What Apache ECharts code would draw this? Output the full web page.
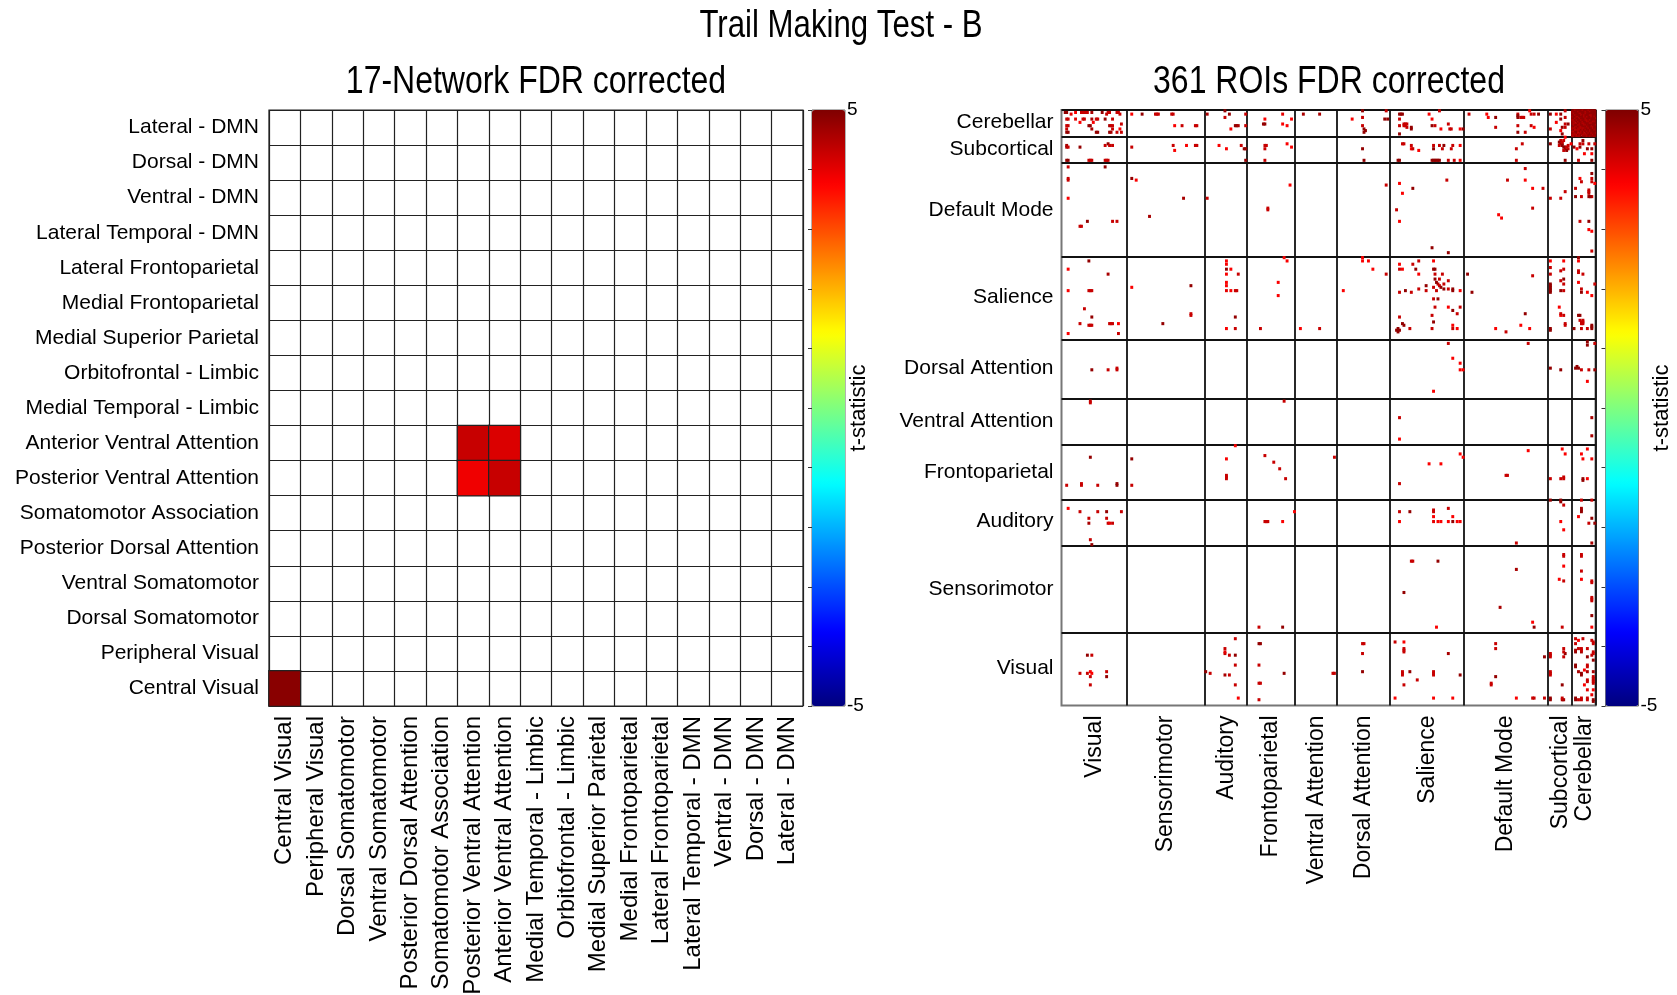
<!DOCTYPE html>
<html>
<head>
<meta charset="utf-8">
<script src="https://cdn.jsdelivr.net/npm/echarts/dist/echarts.min.js"></script>
<style>
html,body{margin:0;padding:0;background:#ffffff;}
#chart{width:1677px;height:995px;}
</style>
</head>
<body>
<div id="chart"></div>
<script>
// ---------- DATA ----------
const mainTitle = 'Trail Making Test - B';
const leftTitle = '17-Network FDR corrected';
const rightTitle = '361 ROIs FDR corrected';
const colorbarName = 't-statistic';

// 17-network order (x: left->right, y: bottom->top)
const networks17 = [
  'Central Visual','Peripheral Visual','Dorsal Somatomotor','Ventral Somatomotor',
  'Posterior Dorsal Attention','Somatomotor Association','Posterior Ventral Attention',
  'Anterior Ventral Attention','Medial Temporal - Limbic','Orbitofrontal - Limbic',
  'Medial Superior Parietal','Medial Frontoparietal','Lateral Frontoparietal',
  'Lateral Temporal - DMN','Ventral - DMN','Dorsal - DMN','Lateral - DMN'
];
// [xIndex, yIndex, t]
const cells17 = [[0,0,4.9],[6,7,4.3],[7,7,4.1],[6,6,3.9],[7,6,4.3]];

// 361-ROI network blocks (x: left->right, y: bottom->top)
const roiNetworks = ['Visual','Sensorimotor','Auditory','Frontoparietal','Ventral Attention',
  'Dorsal Attention','Salience','Default Mode','Subcortical','Cerebellar'];
const roiSizes = [44,53,28,33,28,36,50,57,16,16];

// Significant ROI pairs [roiA, roiB, t] (symmetric matrix, one triangle listed)
const cerebellarEdges = [
  [2,359,4.8],[3,359,4.8],[6,358,4.0],[9,359,3.8],[13,359,4.3],[14,359,4.3],[15,359,4.3],[16,359,4.3],[17,359,4.3],[20,359,4.6],[27,359,4.8],[30,358,4.3],[31,359,4.3],[32,359,4.3],[37,359,4.3],[38,359,4.3],[39,358,4.3],
  [3,355,4.3],[4,355,4.3],[9,355,4.0],[14,355,4.3],[15,355,4.3],[20,355,4.6],[23,355,4.3],[24,355,4.3],[29,355,4.8],[34,355,4.3],
  [12,353,3.8],[21,353,3.8],[40,352,4.3],
  [3,351,4.3],[4,351,4.3],[18,351,4.8],[19,351,4.8],[32,351,4.6],[33,351,4.3],[34,351,4.3],
  [3,349,4.3],[20,349,4.6],[34,349,4.3],[39,349,3.8],
  [3,347,4.8],[4,347,4.8],[23,347,4.8],[24,347,4.8],[32,347,4.8],[33,347,4.6],[37,347,4.3],[40,347,4.3],
  [47,358,3.8],[54,358,4.8],[63,358,4.3],[64,358,4.3],[65,358,4.3],[74,358,4.3],[75,358,4.3],[76,351,3.8],[81,351,4.3],[90,351,4.3],[91,351,4.3],
  [98,358,4.6],[110,360,4.8],[110,356,4.3],[113,358,4.8],[117,351,4.8],[118,351,4.8],[119,351,4.6],[114,349,3.8],[124,358,4.3],[124,351,4.3],
  [137,355,3.8],[136,352,4.8],[137,352,4.8],[149,358,4.0],[149,352,3.8],[152,351,3.8],[155,355,3.8],
  [163,358,4.6],[174,358,4.6],
  [196,355,3.8],[203,360,4.8],[203,356,4.3],[203,351,4.3],[204,349,4.8],[205,348,4.8],[204,347,4.8],[219,360,4.3],[218,355,4.8],[220,355,4.8],
  [228,358,4.8],[229,358,4.8],[230,358,4.8],[228,355,4.3],[228,351,4.3],[231,352,4.3],[232,352,4.3],[233,352,4.3],[231,351,4.3],[232,351,4.3],[233,350,4.3],[236,349,4.8],[236,350,4.8],[228,346,4.8],[248,358,3.8],[250,355,3.8],[255,360,4.3],[250,351,4.8],[252,351,4.3],[256,349,3.8],[261,352,4.3],[262,349,4.3],[263,349,4.3],[269,349,3.8],[271,349,4.8],
  [275,358,4.3],[287,358,3.8],[288,356,3.8],[293,356,4.8],[293,350,4.3],[308,358,4.3],[308,357,4.8],[308,356,4.8],[310,356,4.3],[311,356,4.3],[312,356,4.3],[316,360,3.8],[317,358,4.3],[319,358,4.3],[322,358,4.8],[317,351,4.3],[319,350,3.8],[308,351,4.3],[308,347,4.8],[313,347,4.3],
  [330,358,4.8],[334,358,3.8],[337,358,4.8],[340,360,4.3],[340,356,4.3],[337,355,4.8],[334,353,3.8],[340,352,4.3],[338,350,4.8],[340,350,4.3],[337,348,3.8],[330,349,4.3],[338,346,4.8],[342,352,4.8]
];
const cerebellarWithinEdges = [
  [345,360,4.8],[346,360,4.8],[347,360,4.5],[348,360,4.8],[349,360,4.8],[350,360,4.8],[351,360,4.8],[352,360,4.5],[353,360,4.8],[354,360,4.8],[355,360,4.8],[356,360,4.5],[357,360,4.8],[358,360,4.8],[359,360,4.8],[360,360,4.8],
  [345,359,4.5],[346,359,4.8],[347,359,4.8],[348,359,4.8],[349,359,4.5],[350,359,4.8],[351,359,4.8],[352,359,4.8],[353,359,4.8],[354,359,4.5],[355,359,4.8],[356,359,4.8],[357,359,4.5],[358,359,4.8],[359,359,4.8],
  [345,358,4.8],[346,358,4.5],[347,358,4.8],[348,358,4.8],[349,358,4.8],[350,358,4.5],[352,358,4.8],[353,358,4.8],[354,358,4.5],[355,358,4.8],[356,358,4.8],[357,358,4.8],[358,358,4.8],
  [345,357,4.8],[347,357,4.5],[348,357,4.8],[349,357,4.8],[350,357,4.8],[351,357,4.5],[352,357,4.8],[353,357,4.5],[354,357,4.8],[355,357,4.8],[356,357,4.8],[357,357,4.5],
  [345,356,4.5],[346,356,4.8],[347,356,4.8],[348,356,4.5],[350,356,4.8],[351,356,4.8],[352,356,4.8],[353,356,4.5],[354,356,4.8],[355,356,4.5],[356,356,4.8],
  [345,355,4.8],[346,355,4.8],[347,355,4.5],[348,355,4.8],[349,355,4.8],[350,355,4.5],[351,355,4.8],[353,355,4.8],[354,355,4.5],[355,355,4.8],
  [345,354,4.5],[347,354,4.8],[348,354,4.5],[349,354,4.8],[351,354,4.5],[352,354,4.8],[353,354,4.8],[354,354,4.5],
  [345,353,4.8],[346,353,4.5],[348,353,4.8],[349,353,4.5],[350,353,4.8],[351,353,4.8],[352,353,4.5],[353,353,4.8],
  [345,352,4.8],[346,352,4.5],[347,352,4.5],[349,352,4.8],[350,352,4.5],[351,352,4.8],[352,352,4.5],
  [346,351,4.5],[347,351,4.8],[348,351,4.8],[349,351,4.5],[350,351,4.5],[351,351,4.8],
  [345,350,4.8],[347,350,4.5],[348,350,4.5],[349,350,4.8],[350,350,4.5],
  [345,349,4.5],[346,349,4.5],[348,349,4.8],[349,349,4.5],
  [346,348,4.8],[347,348,4.3],[348,348,4.5],
  [345,347,4.5],[346,347,4.3],[347,347,4.8],
  [345,346,4.8],[346,346,4.5],[345,345,4.5]
];
const subcorticalEdges = [
  [3,338,4.6],[3,339,4.6],[4,338,4.3],[12,338,4.8],[29,339,4.3],[31,340,4.8],[32,339,4.3],[34,339,4.3],[3,330,4.8],[4,330,4.8],[18,330,4.3],[19,330,4.3],[20,330,4.3],[29,330,4.3],[30,330,4.3],[31,330,4.3],
  [47,338,4.3],[75,339,4.3],[76,336,3.8],[84,339,3.8],[90,339,4.3],[91,339,4.3],
  [106,339,3.8],[111,337,3.8],[121,339,4.3],[123,337,4.8],[124,337,4.8],[124,330,4.8],
  [137,339,4.3],[138,339,4.3],[137,337,4.3],[152,340,3.8],[155,338,3.8],[137,330,4.3],
  [203,337,4.8],[204,330,4.8],
  [230,340,4.3],[231,340,4.3],[236,339,4.3],[236,337,3.8],[237,337,4.3],[241,336,3.8],[251,339,4.3],[255,339,4.3],[257,337,4.3],[251,337,4.8],[258,339,4.8],[264,339,4.3],[263,337,4.3],[269,339,3.8],[227,330,4.8],[228,330,4.8],[250,330,4.8],[251,330,4.8],[252,330,4.8],[253,330,4.8],[254,330,4.8],[255,330,4.8],[261,330,4.3],[265,330,4.3],[269,330,3.8],
  [311,340,4.3],[307,337,4.3],[307,330,4.3],
  [330,340,4.8],[337,342,4.3],[340,344,3.8],[336,341,4.8],[337,340,4.8],[338,339,4.8],[338,340,4.8],[338,341,4.3],[339,342,4.3],[336,339,4.3]
];
const defaultModeEdges = [
  [4,326,4.3],[4,318,4.3],[4,319,4.3],[4,307,3.8],[17,293,4.8],[12,290,4.3],[13,290,4.3],[29,326,4.8],[34,293,4.3],[37,293,4.3],
  [47,319,4.8],[50,318,3.8],[82,307,4.6],[59,296,4.6],
  [98,307,4.3],
  [154,315,3.8],[139,300,4.3],[139,301,4.3],
  [219,315,4.3],
  [228,316,3.8],[230,310,3.8],[237,313,4.8],[260,318,4.3],[226,300,4.3],[228,293,3.8],[250,277,4.8],[261,274,4.8],
  [301,318,4.3],[313,325,4.3],[313,318,3.8],[295,297,3.8]
];
const salienceEdges = [
  [18,269,4.8],[4,264,3.8],[31,261,4.6],[4,251,3.8],[18,251,4.3],[19,251,4.3],[20,251,4.3],[15,240,4.3],[20,235,4.8],[12,231,4.3],[18,230,4.3],[19,230,4.3],[20,230,4.3],[32,231,4.3],[33,231,4.3],[34,231,4.3],[38,231,3.8],[4,225,3.8],[38,225,4.3],
  [47,253,3.8],[87,254,4.8],[87,236,4.3],[87,237,4.3],[68,231,4.8],
  [111,269,3.8],[111,267,3.8],[111,264,4.8],[114,264,3.8],[111,261,3.8],[119,261,4.3],[111,256,3.8],[111,254,3.8],[111,251,4.0],[114,251,3.8],[117,251,4.3],[118,251,4.3],[117,235,4.8],[111,228,3.8],[117,228,4.3],
  [150,271,3.8],[152,269,3.8],[146,256,3.8],[146,248,3.8],[134,228,4.3],
  [161,228,3.8],[174,228,4.3],
  [203,271,3.8],[203,269,3.8],[207,269,3.8],[210,264,3.8],[219,261,4.3],[190,251,3.8],
  [228,267,3.8],[228,264,4.3],[230,264,3.8],[237,267,4.3],[241,269,4.3],[239,264,4.8],[241,261,3.8],[251,269,3.8],[251,264,4.8],[252,264,4.8],[252,261,4.3],[257,261,4.3],[252,258,4.8],[254,255,4.3],[228,250,4.3],[232,251,4.8],[236,250,4.3],[241,252,4.3],[246,254,4.8],[246,251,4.3],[228,235,4.3],[230,231,4.8],[226,227,4.8],[227,228,4.8],[251,253,4.3],[253,256,4.8],[255,258,4.3]
];
const dorsalAttentionEdges = [[20,203,4.8],[31,203,4.3],[37,204,4.3],[37,203,4.3]];
const ventralAttentionEdges = [[19,184,4.3],[19,183,4.3],[150,184,4.3]];
const frontoparietalEdges = [
  [19,150,4.8],[3,133,4.3],[13,133,4.3],[13,134,4.3],[24,133,4.3],[37,133,4.8],[37,134,4.8],
  [47,149,4.8],[47,133,4.3],
  [117,157,3.8],[111,149,3.8],[111,138,4.3],[111,137,4.3],[111,139,4.3],
  [137,151,4.3],[143,147,4.3]
];
const auditoryEdges = [
  [4,119,3.8],[12,117,4.3],[18,113,4.3],[24,117,4.3],[30,117,4.8],[40,117,4.3],[18,110,4.6],[30,113,4.3],[31,110,4.3],[32,110,4.0],[34,110,4.3],[19,100,4.3],[20,97,4.8]
];
const visualEdges = [[17,30,4.8],[20,30,4.3],[12,19,4.3],[17,19,4.3],[19,20,3.8]];

const tMin = -5, tMax = 5;
const jetColors = ['#00007f','#0000ff','#007fff','#00ffff','#7fff7f','#ffff00','#ff7f00','#ff0000','#7f0000'];

// ---------- BUILD ----------
const FONT = "'Liberation Sans', Arial, Helvetica, sans-serif";

const roiCount = roiSizes.reduce((a, b) => a + b, 0);
const roiCategories = Array.from({length: roiCount}, (_, i) => String(i));
const blockStarts = [];
const centerName = {};
let acc = 0;
roiSizes.forEach((s, k) => {
  blockStarts.push(acc);
  centerName[acc + Math.floor(s / 2)] = roiNetworks[k];
  acc += s;
});

const roiCells = [];
[cerebellarEdges, cerebellarWithinEdges, subcorticalEdges, defaultModeEdges, salienceEdges,
 dorsalAttentionEdges, ventralAttentionEdges, frontoparietalEdges, auditoryEdges, visualEdges]
  .forEach(group => group.forEach(([a, b, t]) => {
    roiCells.push([a, b, t]);
    if (a !== b) roiCells.push([b, a, t]);
  }));

const leftGrid = {left: 269, top: 110, width: 534, height: 596};
const rightGrid = {left: 1061.5, top: 110, width: 534, height: 595.5};
const cbLeft = {left: 812, top: 110, width: 33, height: 596};
const cbRight = {left: 1605.5, top: 110, width: 33, height: 596};

function cbAxis(gridIndex, gap) {
  return {
    type: 'value', gridIndex: gridIndex, position: 'right', min: tMin, max: tMax, interval: 1,
    axisLine: {show: false},
    axisTick: {show: true, inside: true, length: 4, lineStyle: {color: '#333', width: 1}},
    splitLine: {show: false},
    axisLabel: {show: true, margin: 2, fontSize: 19, color: '#000', fontFamily: FONT,
      showMinLabel: true, showMaxLabel: true, hideOverlap: false,
      formatter: v => (v === tMin || v === tMax) ? String(v) : ''},
    name: colorbarName, nameLocation: 'middle', nameRotate: 90, nameGap: gap, nameMoveOverlap: false,
    nameTextStyle: {fontSize: 22, color: '#000', fontFamily: FONT}
  };
}

function titleText(text, x, y, sx) {
  return {type: 'text', x: x, y: y, scaleX: sx, silent: true,
    style: {text: text, fontSize: 39, fontFamily: FONT, fill: '#000',
      align: 'center', verticalAlign: 'top', textAlign: 'center', textVerticalAlign: 'top'}};
}

const option = {
  animation: false,
  backgroundColor: '#ffffff',
  textStyle: {fontFamily: FONT},
  graphic: [
    titleText(mainTitle, 841, 7, 0.80),
    titleText(leftTitle, 536, 63, 0.82),
    titleText(rightTitle, 1329, 63, 0.82)
  ],
  grid: [
    Object.assign({show: true, borderColor: '#222', borderWidth: 1.2, backgroundColor: '#fff', outerBoundsMode: 'none'}, leftGrid),
    Object.assign({show: true, borderColor: '#777', borderWidth: 2, backgroundColor: '#fff', outerBoundsMode: 'none'}, rightGrid),
    Object.assign({show: true, borderColor: '#666', borderWidth: 1, outerBoundsMode: 'none'}, cbLeft),
    Object.assign({show: true, borderColor: '#666', borderWidth: 1, outerBoundsMode: 'none'}, cbRight)
  ],
  xAxis: [
    {type: 'category', gridIndex: 0, data: networks17,
      axisLine: {show: false}, axisTick: {show: false},
      axisLabel: {interval: 0, rotate: 90, margin: 10, fontSize: 24, color: '#000', fontFamily: FONT, hideOverlap: false},
      splitLine: {show: true, interval: 0, lineStyle: {color: '#222', width: 1.2}}},
    {type: 'category', gridIndex: 1, data: roiCategories,
      axisLine: {show: false}, axisTick: {show: false},
      axisLabel: {interval: (i) => centerName[i] !== undefined, formatter: (v, i) => centerName[i] || '',
        rotate: 90, margin: 10, fontSize: 23, color: '#000', fontFamily: FONT, hideOverlap: false},
      splitLine: {show: true, interval: (i) => blockStarts.indexOf(i) > 0, lineStyle: {color: '#111', width: 1.8}}},
    {type: 'value', gridIndex: 2, show: false, min: 0, max: 1},
    {type: 'value', gridIndex: 3, show: false, min: 0, max: 1}
  ],
  yAxis: [
    {type: 'category', gridIndex: 0, data: networks17,
      axisLine: {show: false}, axisTick: {show: false},
      axisLabel: {interval: 0, margin: 10, fontSize: 21, color: '#000', fontFamily: FONT, hideOverlap: false},
      splitLine: {show: true, interval: 0, lineStyle: {color: '#222', width: 1.2}}},
    {type: 'category', gridIndex: 1, data: roiCategories,
      axisLine: {show: false}, axisTick: {show: false},
      axisLabel: {interval: (i) => centerName[i] !== undefined, formatter: (v, i) => centerName[i] || '',
        margin: 8, fontSize: 21, color: '#000', fontFamily: FONT, hideOverlap: false},
      splitLine: {show: true, interval: (i) => blockStarts.indexOf(i) > 0, lineStyle: {color: '#111', width: 1.8}}},
    cbAxis(2, 3),
    cbAxis(3, 12)
  ],
  visualMap: [
    {type: 'continuous', seriesIndex: 0, min: tMin, max: tMax, calculable: false, realtime: false,
      orient: 'vertical', left: cbLeft.left, top: cbLeft.top, itemWidth: cbLeft.width, itemHeight: cbLeft.height,
      padding: 0, hoverLink: false, inRange: {color: jetColors}},
    {type: 'continuous', seriesIndex: 1, dimension: 2, min: tMin, max: tMax, calculable: false, realtime: false,
      orient: 'vertical', left: cbRight.left, top: cbRight.top, itemWidth: cbRight.width, itemHeight: cbRight.height,
      padding: 0, hoverLink: false, inRange: {color: jetColors}}
  ],
  series: [
    {type: 'heatmap', xAxisIndex: 0, yAxisIndex: 0, data: cells17,
      itemStyle: {borderColor: '#222', borderWidth: 1.2}, emphasis: {disabled: true}},
    {type: 'scatter', xAxisIndex: 1, yAxisIndex: 1, data: roiCells,
      symbol: 'rect', symbolSize: [2.9, 3.1], silent: true, large: false,
      itemStyle: {opacity: 1, borderWidth: 0}, emphasis: {disabled: true}}
  ]
};

const chart = echarts.init(document.getElementById('chart'), null, {renderer: 'canvas'});
chart.setOption(option);
</script>
</body>
</html>
